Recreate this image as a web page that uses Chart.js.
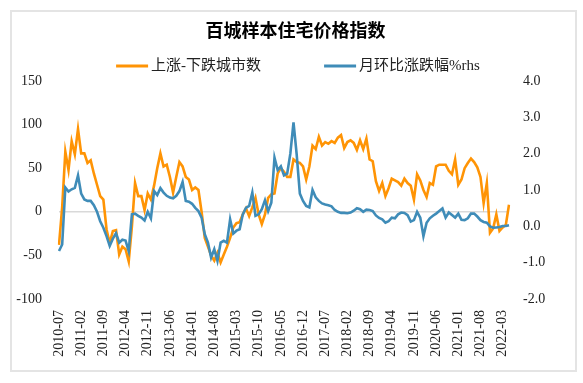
<!DOCTYPE html>
<html><head><meta charset="utf-8">
<script src="https://cdn.jsdelivr.net/npm/chart.js@4.4.1/dist/chart.umd.min.js"></script>
<style>
html,body{margin:0;padding:0;background:#fff;}
#wrap{position:relative;width:583px;height:383px;}
#frame{position:absolute;left:10px;top:10px;width:567px;height:362px;border:2px solid #e4e4e4;box-sizing:border-box;}
canvas{position:absolute;left:0;top:0;}
</style></head><body>
<div id="wrap"><div id="frame"></div><canvas id="c" width="583" height="383"></canvas></div>
<script>
// categories: monthly 2010-07 .. 2022-05
const startYear = 2010, startMonth = 7, monthCount = 143;
const months = [];
for (let k = 0; k < monthCount; k++) {
  const m = startMonth - 1 + k;
  const y = startYear + Math.floor(m / 12);
  const mm = (m % 12) + 1;
  months.push(y + '-' + (mm < 10 ? '0' + mm : mm));
}
const labelStep = 7;

// 上涨-下跌城市数 (left axis)
const upMinusDown = [
 -38, 5, 69, 48, 81, 66, 95, 67, 67, 56, 59, 44, 31, 18, 14, -20, -36, -22, -21, -49,
 -40, -43, -57, -17, 33, 18, 18, 2, 21, 14, 30, 50, 67, 52, 54, 40, 22, 40, 57, 52,
 40, 37, 25, 28, 25, 0, -30, -40, -50, -56, -47, -58, -49, -40, -30, -18, -13, -12, -3, 4,
 -5, 5, 16, -3, -14, -3, 16, 20, 21, 44, 50, 46, 40, 40, 60, 57, 56, 52, 37, 52,
 76, 72, 86, 76, 80, 78, 81, 79, 85, 88, 73, 80, 82, 79, 71, 82, 72, 84, 60, 58,
 35, 24, 33, 18, 27, 38, 36, 34, 30, 38, 33, 30, 14, 43, 36, 25, 17, 33, 31, 52,
 54, 54, 54, 47, 43, 60, 31, 37, 50, 56, 61, 57, 51, 40, 10, 33, -24, -19, -3, -22,
 -18, -15, 8
];
// 月环比涨跌幅%rhs (right axis)
const momChange = [
 -0.68, -0.50, 1.07, 0.96, 1.02, 1.06, 1.40, 0.90, 0.74, 0.70, 0.70, 0.58, 0.40, 0.14, -0.04, -0.27, -0.54, -0.34, -0.19, -0.45,
 -0.37, -0.39, -0.68, 0.33, 0.35, 0.29, 0.24, 0.16, 0.40, 0.22, 0.97, 0.86, 1.05, 0.93, 0.84, 0.79, 0.77, 0.84, 0.97, 1.22,
 0.70, 0.68, 0.62, 0.51, 0.42, 0.24, -0.22, -0.45, -0.86, -0.63, -0.95, -0.45, -0.40, -0.45, 0.19, -0.20, -0.12, -0.08, 0.33, 0.51,
 0.56, 0.93, 0.29, 0.33, 0.47, 0.72, 0.42, 0.65, 1.89, 1.55, 1.65, 1.40, 1.45, 2.00, 2.86, 1.98, 0.90, 0.70, 0.56, 0.52,
 1.00, 0.80, 0.70, 0.63, 0.60, 0.58, 0.55, 0.45, 0.40, 0.37, 0.37, 0.36, 0.38, 0.43, 0.50, 0.47, 0.40, 0.46, 0.45, 0.42,
 0.30, 0.23, 0.19, 0.10, 0.14, 0.24, 0.22, 0.33, 0.38, 0.37, 0.31, 0.13, 0.17, 0.40, 0.24, -0.27, 0.10, 0.22, 0.29, 0.35,
 0.42, 0.49, 0.24, 0.38, 0.31, 0.24, 0.35, 0.18, 0.17, 0.22, 0.35, 0.35, 0.27, 0.17, 0.12, 0.10, 0.00, -0.04, -0.03, -0.02,
 0.01, 0.01, 0.03
];
const leftTicks = [-100, -50, 0, 50, 100, 150];
const rightTicks = [-2.0, -1.0, 0.0, 1.0, 2.0, 3.0, 4.0];

const ORANGE = '#FF9405';
const BLUE = '#3F8CB8';
const SERIF = "'Liberation Serif', 'Times New Roman', 'Noto Sans CJK SC', serif";
const tickFont = { family: SERIF, size: 14 };
const tickColor = '#222';

// legend drawn with the chart's own dataset labels/colours
const manualLegend = {
  id: 'manualLegend',
  afterDraw(chart, args, o) {
    const ctx = chart.ctx;
    ctx.save();
    ctx.font = o.font;
    const items = chart.data.datasets.map(ds => ({
      text: ds.label, color: ds.borderColor, w: ctx.measureText(ds.label).width }));
    const total = items.reduce((s, it) => s + o.sample + o.gap + it.w, 0) + o.spacing * (items.length - 1);
    let x = o.centerX - total / 2;
    items.forEach(it => {
      ctx.strokeStyle = it.color; ctx.lineWidth = 3; ctx.lineCap = 'butt';
      ctx.beginPath(); ctx.moveTo(x, o.y); ctx.lineTo(x + o.sample, o.y); ctx.stroke();
      ctx.fillStyle = o.color; ctx.textBaseline = 'middle'; ctx.textAlign = 'left';
      ctx.fillText(it.text, x + o.sample + o.gap, o.y);
      x += o.sample + o.gap + it.w + o.spacing;
    });
    ctx.restore();
  }
};

const chart = new Chart(document.getElementById('c'), {
  type: 'line',
  data: {
    labels: months,
    datasets: [
      { label: '上涨-下跌城市数', data: upMinusDown, borderColor: ORANGE, backgroundColor: ORANGE,
        borderWidth: 2.6, pointRadius: 0, tension: 0, yAxisID: 'y', order: 2 },
      { label: '月环比涨跌幅%rhs', data: momChange, borderColor: BLUE, backgroundColor: BLUE,
        borderWidth: 2.6, pointRadius: 0, tension: 0, yAxisID: 'y1', order: 1 }
    ]
  },
  plugins: [manualLegend],
  options: {
    responsive: false, animation: false, devicePixelRatio: 1,
    layout: { padding: { left: 8, right: 0, top: 0, bottom: 0 } },
    plugins: {
      title: { display: true, text: '百城样本住宅价格指数', color: '#000',
        font: { family: SERIF, size: 18, weight: 'bold', lineHeight: 1.2 },
        padding: { top: 22, bottom: 37.4 } },
      legend: { display: false },
      manualLegend: { font: "15px " + SERIF, color: '#222', sample: 32, gap: 3, spacing: 63, centerX: 298, y: 66 },
      tooltip: { enabled: false }
    },
    scales: {
      x: { type: 'category', offset: false,
        grid: { display: false, drawTicks: false }, border: { display: false },
        ticks: { autoSkip: false, maxRotation: 90, minRotation: 90, padding: 11,
          color: tickColor, font: tickFont,
          callback: (v, i) => (i % labelStep === 0 ? months[i] : '') },
        afterFit: s => { s.height = 84; } },
      y: { position: 'left', min: leftTicks[0], max: leftTicks[leftTicks.length - 1],
        afterBuildTicks: s => { s.ticks = leftTicks.map(v => ({ value: v })); },
        ticks: { padding: 17, color: tickColor, font: tickFont },
        grid: { color: c => (c.tick && c.tick.value === 0 ? '#d9d9d9' : 'rgba(0,0,0,0)'), lineWidth: 1.5, drawTicks: false },
        border: { display: false },
        afterFit: s => { s.width = 51; } },
      y1: { position: 'right', min: rightTicks[0], max: rightTicks[rightTicks.length - 1],
        afterBuildTicks: s => { s.ticks = rightTicks.map(v => ({ value: v })); },
        ticks: { padding: 14, color: tickColor, font: tickFont, callback: v => Number(v).toFixed(1) },
        grid: { display: false, drawTicks: false }, border: { display: false },
        afterFit: s => { s.width = 74; } }
    }
  }
});
</script>
</body></html>
